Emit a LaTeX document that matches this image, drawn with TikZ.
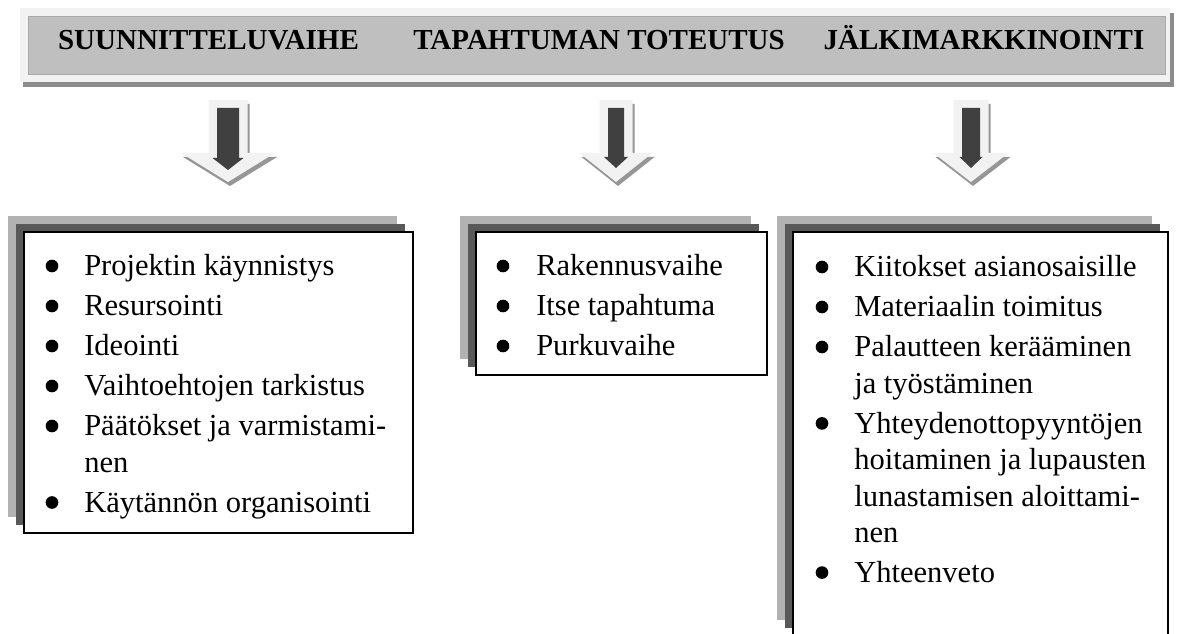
\documentclass[tikz,border=0pt]{standalone}
\usepackage{fontspec}
\setmainfont{Liberation Serif}
\usepackage{tikz}

\begin{document}
\begin{tikzpicture}[x=0.75pt,y=0.75pt,yscale=-1,xscale=1,
  phasetext/.style={anchor=base,inner sep=0.75pt,font=\fontsize{21.75}{26}\selectfont\bfseries},
  listtext/.style={anchor=base west,inner sep=0.75pt,align=left,font=\fontsize{22.9}{27.3}\selectfont},
  listbullet/.style={circle,fill=black,inner sep=0pt,minimum size=9.5pt}]

\useasboundingbox (0,0) rectangle (1179,634);
\clip (0,0) rectangle (1179,634);
\fill [white] (0,0) rectangle (1179,634);

%Shape: Rectangle [header shadow]
\draw  [draw opacity=0][fill={rgb, 255:red, 140; green, 140; blue, 140 }  ,fill opacity=1 ] (23,13) -- (1174,13) -- (1174,87) -- (23,87) -- cycle ;
%Shape: Rectangle [header frame]
\draw  [draw opacity=0][fill={rgb, 255:red, 242; green, 242; blue, 242 }  ,fill opacity=1 ] (20,8) -- (1170,8) -- (1170,82) -- (20,82) -- cycle ;
%Shape: Rectangle [header bar]
\draw  [color={rgb, 255:red, 170; green, 170; blue, 170 }  ,draw opacity=1 ][fill={rgb, 255:red, 191; green, 191; blue, 191 }  ,fill opacity=1 ][line width=0.5] (28,16) -- (1165,16) -- (1165,74) -- (28,74) -- cycle ;

% Text Node
\draw (208.5,50) node [phasetext] (suunnittelu) {SUUNNITTELUVAIHE};
% Text Node
\draw (599,50) node [phasetext] (toteutus) {TAPAHTUMAN TOTEUTUS};
% Text Node
\draw (984,50) node [phasetext] (jalki) {JÄLKIMARKKINOINTI};

%Down Arrow [first]
\draw  [draw opacity=0][fill={rgb, 255:red, 150; green, 150; blue, 150 }  ,fill opacity=1 ] (210.5,104) -- (249.5,104) -- (249.5,157) -- (277,157) -- (230,186) -- (183,157) -- (210.5,157) -- cycle ;
\draw  [draw opacity=0][fill={rgb, 255:red, 242; green, 242; blue, 242 }  ,fill opacity=1 ] (208.5,100) -- (247.5,100) -- (247.5,153) -- (275,153) -- (228,182) -- (181,153) -- (208.5,153) -- cycle ;
\draw  [draw opacity=0][fill={rgb, 255:red, 64; green, 64; blue, 64 }  ,fill opacity=1 ] (217,108) -- (239,108) -- (239,158) -- (243.5,158) -- (228,170) -- (212.5,158) -- (217,158) -- cycle ;

%Down Arrow [second]
\draw  [draw opacity=0][fill={rgb, 255:red, 150; green, 150; blue, 150 }  ,fill opacity=1 ] (601.5,104) -- (634.5,104) -- (634.5,157) -- (654.5,157) -- (618,186) -- (581.5,157) -- (601.5,157) -- cycle ;
\draw  [draw opacity=0][fill={rgb, 255:red, 242; green, 242; blue, 242 }  ,fill opacity=1 ] (599.5,100) -- (632.5,100) -- (632.5,153) -- (652.5,153) -- (616,182) -- (579.5,153) -- (599.5,153) -- cycle ;
\draw  [draw opacity=0][fill={rgb, 255:red, 64; green, 64; blue, 64 }  ,fill opacity=1 ] (608,108) -- (624,108) -- (624,157) -- (628,157) -- (616,168) -- (604,157) -- (608,157) -- cycle ;

%Down Arrow [third]
\draw  [draw opacity=0][fill={rgb, 255:red, 150; green, 150; blue, 150 }  ,fill opacity=1 ] (955.5,104) -- (990.5,104) -- (990.5,157) -- (1010.5,157) -- (973,186) -- (935.5,157) -- (955.5,157) -- cycle ;
\draw  [draw opacity=0][fill={rgb, 255:red, 242; green, 242; blue, 242 }  ,fill opacity=1 ] (953.5,100) -- (988.5,100) -- (988.5,153) -- (1008.5,153) -- (971,182) -- (933.5,153) -- (953.5,153) -- cycle ;
\draw  [draw opacity=0][fill={rgb, 255:red, 64; green, 64; blue, 64 }  ,fill opacity=1 ] (962,108) -- (980,108) -- (980,157) -- (982.5,157) -- (971,168) -- (959.5,157) -- (962,157) -- cycle ;

%Shape: Rectangle [first box, shadows]
\draw  [draw opacity=0][fill={rgb, 255:red, 178; green, 178; blue, 178 }  ,fill opacity=1 ] (8,216) -- (397,216) -- (397,517) -- (8,517) -- cycle ;
\draw  [draw opacity=0][fill={rgb, 255:red, 89; green, 89; blue, 89 }  ,fill opacity=1 ] (16,224) -- (405,224) -- (405,525) -- (16,525) -- cycle ;
%Shape: Rectangle [first box]
\draw  [fill={rgb, 255:red, 255; green, 255; blue, 255 }  ,fill opacity=1 ][line width=1.5] (24,232) -- (413,232) -- (413,533) -- (24,533) -- cycle ;

%Shape: Rectangle [second box, shadows]
\draw  [draw opacity=0][fill={rgb, 255:red, 178; green, 178; blue, 178 }  ,fill opacity=1 ] (460,216) -- (751,216) -- (751,359) -- (460,359) -- cycle ;
\draw  [draw opacity=0][fill={rgb, 255:red, 89; green, 89; blue, 89 }  ,fill opacity=1 ] (468,224) -- (759,224) -- (759,367) -- (468,367) -- cycle ;
%Shape: Rectangle [second box]
\draw  [fill={rgb, 255:red, 255; green, 255; blue, 255 }  ,fill opacity=1 ][line width=1.5] (476,232) -- (767,232) -- (767,375) -- (476,375) -- cycle ;

%Shape: Rectangle [third box, shadows]
\draw  [draw opacity=0][fill={rgb, 255:red, 178; green, 178; blue, 178 }  ,fill opacity=1 ] (777,216) -- (1152,216) -- (1152,620) -- (777,620) -- cycle ;
\draw  [draw opacity=0][fill={rgb, 255:red, 89; green, 89; blue, 89 }  ,fill opacity=1 ] (785,224) -- (1160,224) -- (1160,628) -- (785,628) -- cycle ;
%Shape: Rectangle [third box]
\draw  [fill={rgb, 255:red, 255; green, 255; blue, 255 }  ,fill opacity=1 ][line width=1.5] (793,232) -- (1168,232) -- (1168,636) -- (793,636) -- cycle ;

% Text Node
\draw (52,266) node [listbullet] (b11) {};
\draw (83,276) node [listtext] (projektin) {Projektin käynnistys};
% Text Node
\draw (52,306) node [listbullet] (b12) {};
\draw (83,316) node [listtext] (resursointi) {Resursointi};
% Text Node
\draw (52,346) node [listbullet] (b13) {};
\draw (83,356) node [listtext] (ideointi) {Ideointi};
% Text Node
\draw (52,386) node [listbullet] (b14) {};
\draw (83,396) node [listtext] (vaihtoehdot) {Vaihtoehtojen tarkistus};
% Text Node
\draw (52,426) node [listbullet] (b15) {};
\draw (83,472.4) node [listtext] (paatokset) {Päätökset ja varmistami-\\nen};
% Text Node
\draw (52,502.5) node [listbullet] (b16) {};
\draw (83,512.5) node [listtext] (kaytanto) {Käytännön organisointi};

% Text Node
\draw (503,266) node [listbullet] (b21) {};
\draw (535,276) node [listtext] (rakennus) {Rakennusvaihe};
% Text Node
\draw (503,306) node [listbullet] (b22) {};
\draw (535,316) node [listtext] (itse) {Itse tapahtuma};
% Text Node
\draw (503,346) node [listbullet] (b23) {};
\draw (535,356) node [listtext] (purku) {Purkuvaihe};

% Text Node
\draw (822,267) node [listbullet] (b31) {};
\draw (853,277) node [listtext] (kiitokset) {Kiitokset asianosaisille};
% Text Node
\draw (822,307) node [listbullet] (b32) {};
\draw (853,317) node [listtext] (materiaali) {Materiaalin toimitus};
% Text Node
\draw (822,347) node [listbullet] (b33) {};
\draw (853,393.4) node [listtext] (palaute) {Palautteen kerääminen\\ja työstäminen};
% Text Node
\draw (822,423.4) node [listbullet] (b34) {};
\draw (853,542.6) node [listtext] (yhteydenotto) {Yhteydenottopyyntöjen\\hoitaminen ja lupausten\\lunastamisen aloittami-\\nen};
% Text Node
\draw (822,572.6) node [listbullet] (b35) {};
\draw (853,582.6) node [listtext] (yhteenveto) {Yhteenveto};

\end{tikzpicture}
\end{document}
